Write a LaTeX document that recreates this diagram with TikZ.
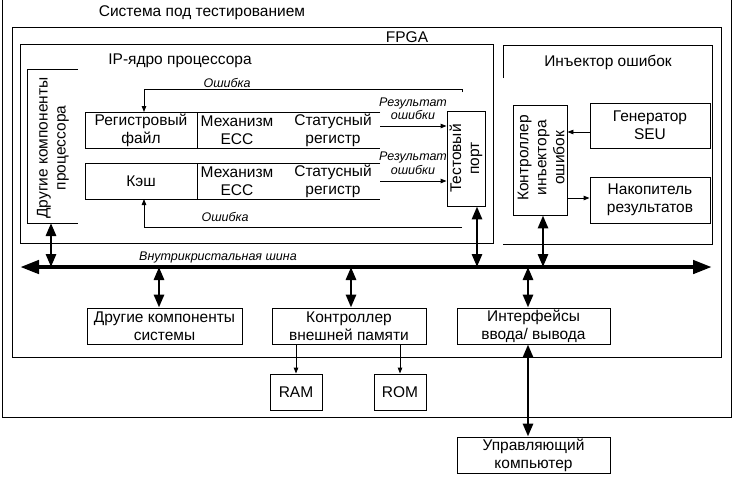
\documentclass[tikz,border=0pt]{standalone}
\usepackage{fontspec}
\setmainfont{Liberation Sans}
\usetikzlibrary{arrows.meta}
\begin{document}
\begin{tikzpicture}[x=1pt,y=-1pt,
  thinline/.style={line width=0.9pt},
  box/.style={draw,thinline,inner sep=0pt,align=center,font=\mainfs},
  lbl/.style={inner sep=0pt,align=center,font=\mainfs},
  ilbl/.style={inner sep=0pt,align=center,font=\itfs},
  sarr/.style={thinline,-{Triangle[length=6pt,width=4.5pt]}},
  dbl/.style={line width=2.8pt,{Triangle[length=13pt,width=10pt]}-{Triangle[length=13pt,width=10pt]}},
  busline/.style={line width=4.4pt,{Triangle[length=19pt,width=13pt]}-{Triangle[length=19pt,width=13pt]}}
]
\newcommand{\mainfs}{\fontsize{15.5}{18}\selectfont}
\newcommand{\itfs}{\fontsize{12.5}{13}\selectfont\itshape}
\useasboundingbox (0,0) rectangle (732,496);

% outer system box (top edge at the image border)
\draw[thinline] (2,0) -- (2,417) -- (731,417) -- (731,0);
\node[lbl] (sys) at (202,13) {Система под тестированием};

% FPGA
\draw[thinline] (12,27) rectangle (721,357);
\node[lbl] (fpga) at (407,37) {FPGA};

% IP core
\draw[thinline] (20,44) rectangle (493,243);
\node[lbl] (ip) at (180,61) {IP-ядро процессора};

% other processor components (open on the right)
\draw[thinline] (78,69) -- (27,69) -- (27,223) -- (78,223);
\node[lbl,rotate=90] (ocp) at (53,148) {Другие компоненты\\процессора};
\coordinate (ocpb) at (51,223);

% row 1
\draw[thinline] (380,112) -- (85,112) -- (85,148) -- (380,148);
\draw[thinline] (197,112) -- (197,148);
\node[lbl] (rf) at (141,130) {Регистровый\\файл};
\node[lbl] (ecc1) at (237,130) {Механизм\\ECC};
\node[lbl] (st1) at (333,130) {Статусный\\регистр};
\coordinate (st1e) at (380,126);

% row 2
\draw[thinline] (380,163) -- (85,163) -- (85,199) -- (380,199);
\draw[thinline] (197,163) -- (197,199);
\node[lbl] (cache) at (141,181) {Кэш};
\node[lbl] (ecc2) at (237,181) {Механизм\\ECC};
\node[lbl] (st2) at (333,181) {Статусный\\регистр};
\coordinate (st2e) at (380,181);

% test port
\node[box,minimum width=38pt,minimum height=95pt] (tport) at (466,158.5) {};
\node[lbl,rotate=90] (tptext) at (466,158.5) {Тестовый\\порт};

% result arrows
\draw[sarr] (st1e) -- (st1e -| tport.west);
\node[ilbl] (r1a) at (413,103) {Результат};
\node[ilbl] (r1b) at (413,115) {ошибки};
\draw[sarr] (st2e) -- (st2e -| tport.west);
\node[ilbl] (r2a) at (413,157) {Результат};
\node[ilbl] (r2b) at (413,170) {ошибки};

% error feedback lines
\coordinate (err1) at (462,92);
\coordinate (err2) at (462,227);
\coordinate (rft) at (144,112);
\coordinate (cab) at (144,199);
\draw[sarr] (err1) |- (rft |- 0,89) -- (rft);
\node[ilbl] (e1) at (227,83) {Ошибка};
\draw[sarr] (err2) -- (cab |- err2) -- (cab);
\node[ilbl] (e2) at (225,217) {Ошибка};

% injector
\draw[thinline] (503,78) -- (503,45) -- (712,45) -- (712,244) -- (503,244);
\node[lbl] (inj) at (608,62) {Инъектор ошибок};
\node[box,minimum width=54pt,minimum height=110pt] (ctrl) at (540,160) {};
\node[lbl,rotate=90] (ctrltext) at (541,158) {Контроллер\\инъектора\\ошибок};
\node[box,minimum width=120pt,minimum height=45pt] (gen) at (650,125.5) {Генератор\\SEU};
\node[box,minimum width=120pt,minimum height=46pt] (acc) at (650,200) {Накопитель\\результатов};
\draw[sarr] ([yshift=-6.5pt]gen.west) -- ([yshift=-6.5pt]gen.west -| ctrl.east);
\draw[sarr] ([yshift=2pt]acc.west -| ctrl.east) -- ([yshift=2pt]acc.west);

% bus
\coordinate (busL) at (20,267);
\coordinate (busR) at (712,267);
\draw[busline] (busL) -- (busR);
\node[ilbl] (busl) at (218,257) {Внутрикристальная шина};

% bottom boxes
\node[box,minimum width=155pt,minimum height=36pt] (osys) at (164.5,326) {Другие компоненты\\системы};
\node[box,minimum width=154pt,minimum height=36pt] (emc) at (349,326) {Контроллер\\внешней памяти};
\node[box,minimum width=153pt,minimum height=36pt] (io) at (533.5,326) {Интерфейсы\\ввода/ вывода};
\node[box,minimum width=52pt,minimum height=36pt] (ram) at (296,392) {RAM};
\node[box,minimum width=52pt,minimum height=36pt] (rom) at (400,392) {ROM};
\node[box,minimum width=153pt,minimum height=36pt] (pc) at (533.5,455) {Управляющий\\компьютер};

% bus connections
\draw[dbl] (ocpb) -- (ocpb |- busL);
\draw[dbl] ([xshift=11pt]tport.south) -- ([xshift=11pt]tport.south |- busL);
\draw[dbl] ([xshift=3pt]ctrl.south) -- ([xshift=3pt]ctrl.south |- busL);
\draw[dbl] ([xshift=-5.5pt]osys.north |- busL) -- ([xshift=-5.5pt]osys.north);
\draw[dbl] ([xshift=2pt]emc.north |- busL) -- ([xshift=2pt]emc.north);
\draw[dbl] ([xshift=-5.5pt]io.north |- busL) -- ([xshift=-5.5pt]io.north);
\draw[dbl] ([xshift=-5.5pt]io.south) -- ([xshift=-5.5pt]pc.north);

% memory
\draw[sarr] (emc.south -| ram) -- (ram.north);
\draw[sarr] (emc.south -| rom) -- (rom.north);
\end{tikzpicture}
\end{document}
